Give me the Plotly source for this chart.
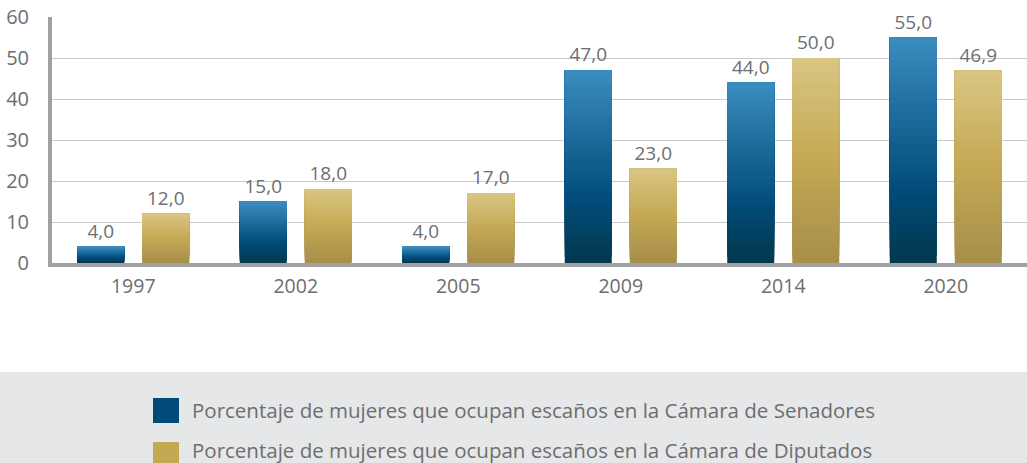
"""Women's share of seats in the Mexican Senate and Chamber of Deputies."""

import plotly.graph_objects as go

years = ["1997", "2002", "2005", "2009", "2014", "2020"]
senadores = [4.0, 15.0, 4.0, 47.0, 44.0, 55.0]
diputados = [12.0, 18.0, 17.0, 23.0, 50.0, 46.9]

label_sen = "Porcentaje de mujeres que ocupan escaños en la Cámara de Senadores"
label_dip = "Porcentaje de mujeres que ocupan escaños en la Cámara de Diputados"

FONT = "Open Sans"
GREY_TEXT = "#6d6e71"
W, H = 1027, 463
M = {"l": 52, "r": 0, "t": 17, "b": 200}

# gradient stops from bottom (0) to top (1) of each bar
BLUE_STOPS = [(0.0, "#03394f"), (0.3, "#004b78"), (1.0, "#3d8ec2")]
GOLD_STOPS = [(0.0, "#a88f4a"), (0.5, "#c5a955"), (1.0, "#dac785")]
N_STEPS = 30


def hex_rgb(h):
    return tuple(int(h[i:i + 2], 16) for i in (1, 3, 5))


def ramp(stops, t):
    for (t0, c0), (t1, c1) in zip(stops, stops[1:]):
        if t0 <= t <= t1:
            f = (t - t0) / (t1 - t0)
            a, b = hex_rgb(c0), hex_rgb(c1)
            return "rgb(%d,%d,%d)" % tuple(round(x + (y - x) * f) for x, y in zip(a, b))
    return stops[-1][1]


def gradient_bars(fig, values, stops, group):
    # a solid bar carrying the label, then overlaid slices for the gradient
    fig.add_trace(
        go.Bar(
            x=years,
            y=values,
            offsetgroup=group,
            marker={"color": stops[0][1], "line": {"width": 0}},
            texttemplate="%{y:.1f}",
            textposition="outside",
            textfont={"family": FONT, "size": 19, "color": GREY_TEXT},
            cliponaxis=False,
            showlegend=False,
            hoverinfo="skip",
        )
    )
    for i in range(1, N_STEPS):
        f = i / N_STEPS
        fig.add_trace(
            go.Bar(
                x=years,
                y=[v * (1 - f) for v in values],
                base=[v * f for v in values],
                offsetgroup=group,
                marker={"color": ramp(stops, f), "line": {"width": 0}},
                showlegend=False,
                hoverinfo="skip",
            )
        )


def px_x(x):
    return (x - M["l"]) / (W - M["l"] - M["r"])


def px_y(y):
    return (H - M["b"] - y) / (H - M["t"] - M["b"])


fig = go.Figure()
gradient_bars(fig, senadores, BLUE_STOPS, "sen")
gradient_bars(fig, diputados, GOLD_STOPS, "dip")

# legend panel
shapes = [
    dict(type="rect", xref="paper", yref="paper", x0=px_x(0), x1=px_x(W),
         y0=px_y(372), y1=px_y(H + 5), fillcolor="#e6e7e8", line={"width": 0}, layer="below"),
    dict(type="rect", xref="paper", yref="paper", x0=px_x(153), x1=px_x(179),
         y0=px_y(398), y1=px_y(423), fillcolor="#004a78", line={"width": 0}),
    dict(type="rect", xref="paper", yref="paper", x0=px_x(153), x1=px_x(179),
         y0=px_y(442), y1=px_y(467), fillcolor="#c4a852", line={"width": 0}),
]
annotations = [
    dict(text=label_sen, xref="paper", yref="paper", x=px_x(190), y=px_y(410),
         xanchor="left", yanchor="middle", showarrow=False,
         font={"family": FONT, "size": 20.5, "color": GREY_TEXT}),
    dict(text=label_dip, xref="paper", yref="paper", x=px_x(190), y=px_y(450),
         xanchor="left", yanchor="middle", showarrow=False,
         font={"family": FONT, "size": 20.5, "color": GREY_TEXT}),
]

fig.update_layout(
    width=W,
    height=H,
    margin=M,
    barmode="group",
    bargap=0.2,
    bargroupgap=0.277,
    separators=",.",
    plot_bgcolor="white",
    paper_bgcolor="white",
    font={"family": FONT, "size": 19, "color": GREY_TEXT},
    showlegend=False,
    shapes=shapes,
    annotations=annotations,
    xaxis={
        "showline": True,
        "linecolor": "#a0a1a3",
        "linewidth": 4,
        "ticks": "",
        "ticklabelstandoff": 3,
        "tickfont": {"family": FONT, "size": 19.5, "color": GREY_TEXT},
    },
    yaxis={
        "range": [0, 60],
        "dtick": 10,
        "showline": True,
        "linecolor": "#a0a1a3",
        "linewidth": 4,
        "showgrid": True,
        "gridcolor": "#c8c9cb",
        "gridwidth": 1,
        "zeroline": False,
        "ticklabelstandoff": 15,
        "tickfont": {"family": FONT, "size": 20, "color": GREY_TEXT},
    },
)

fig.write_html(
    "out.html",
    config={"displayModeBar": False},
    post_script="document.body.style.margin='0';",
)
